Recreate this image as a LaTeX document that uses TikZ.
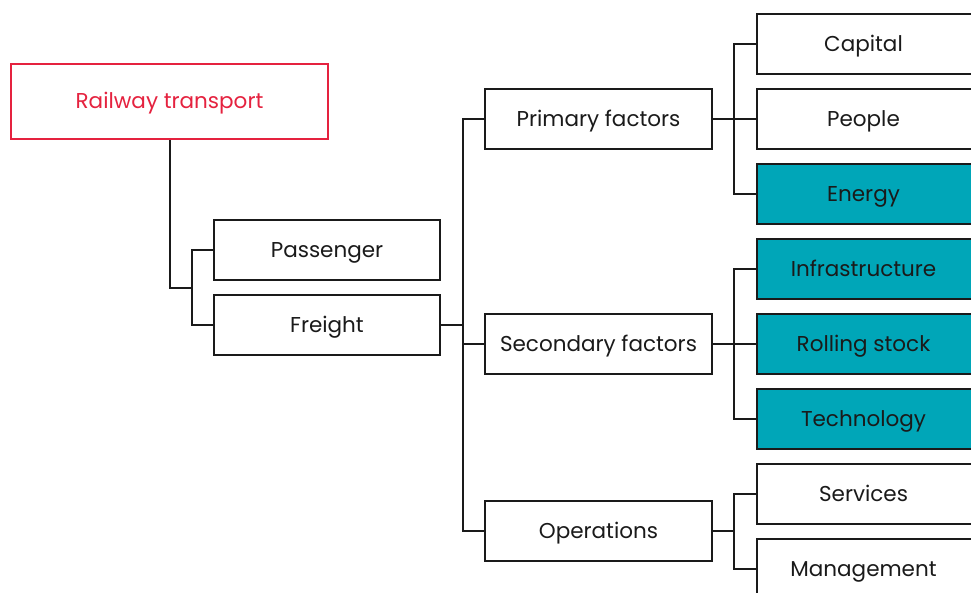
\documentclass[tikz,border=0pt]{standalone}
\usepackage{fontspec}
\setmainfont{Poppins}
\definecolor{ink}{HTML}{1A1A1A}
\definecolor{rail}{HTML}{E5223F}
\definecolor{teal}{HTML}{00A6B8}
% leaf label: centred in the visible part of the box, box runs past the edge
\newcommand{\leaftext}[1]{\makebox[213pt][c]{#1}\rule{27pt}{0pt}}
\begin{document}
\begin{tikzpicture}[x=1pt,y=-1pt,
  line join=miter,
  label font/.style={font=\fontsize{21.5}{24}\selectfont},
  box/.style={draw=ink, line width=2pt, fill=white, text=ink, inner sep=0pt,
    minimum width=226pt, minimum height=60pt, label font,
    text height=15pt, text depth=0pt},
  leaf/.style={box, minimum width=0pt, anchor=west},
  hot/.style={fill=teal},
  wire/.style={draw=ink, line width=2pt}]
\clip (0,0) rectangle (971,593);
\fill[white] (0,0) rectangle (971,593);

% root and first level
\node[box, draw=rail, text=rail, minimum width=317pt, minimum height=75pt] (root) at (169.5,101.5) {Railway transport};
\node[box] (pass) at (327,250) {Passenger};
\node[box] (frei) at (327,325) {Freight};

% factor groups
\node[box, minimum width=227pt] (prim) at (598.5,119) {Primary factors};
\node[box, minimum width=227pt] (sec)  at (598.5,344) {Secondary factors};
\node[box, minimum width=227pt] (ops)  at (598.5,531) {Operations};

% leaves
\node[leaf] (cap) at (756,44)  {\leaftext{Capital}};
\node[leaf] (peo) at (756,119) {\leaftext{People}};
\node[leaf, hot] (ene) at (756,194) {\leaftext{Energy}};
\node[leaf, hot] (inf) at (756,269) {\leaftext{Infrastructure}};
\node[leaf, hot] (rol) at (756,344) {\leaftext{Rolling stock}};
\node[leaf, hot] (tec) at (756,419) {\leaftext{Technology}};
\node[leaf] (ser) at (756,494) {\leaftext{Services}};
\node[leaf] (man) at (756,569) {\leaftext{Management}};

% junction points
\coordinate (j1) at (192,288);
\coordinate (j2) at (463,325);
\coordinate (j3) at (734,119);
\coordinate (j4) at (734,344);
\coordinate (j5) at (734,531);

% connectors
\draw[wire] (root.south) |- (j1);
\draw[wire] (pass.west) -| (j1) |- (frei.west);
\draw[wire] (frei.east) -- (j2);
\draw[wire] (prim.west) -| (j2) |- (ops.west);
\draw[wire] (sec.west) -- (sec.west -| j2);
\draw[wire] (prim.east) -- (j3);
\draw[wire] (cap.west) -| (j3) |- (ene.west);
\draw[wire] (peo.west) -- (j3);
\draw[wire] (sec.east) -- (j4);
\draw[wire] (inf.west) -| (j4) |- (tec.west);
\draw[wire] (rol.west) -- (j4);
\draw[wire] (ops.east) -- (j5);
\draw[wire] (ser.west) -| (j5) |- (man.west);
\end{tikzpicture}
\end{document}
